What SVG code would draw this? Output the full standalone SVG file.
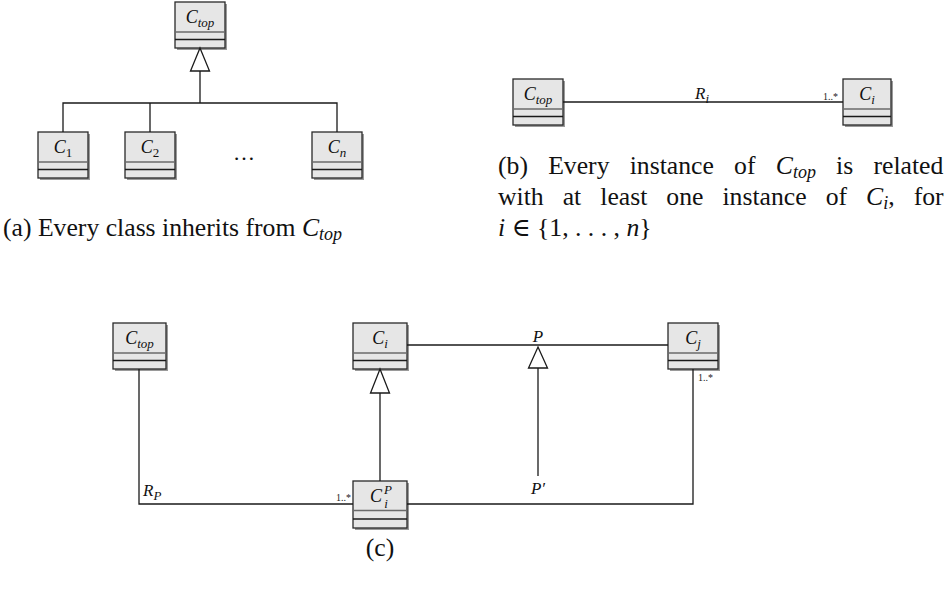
<svg xmlns="http://www.w3.org/2000/svg" width="947" height="596" viewBox="0 0 947 596">
  <style>
    .shadow { fill: #9a9a9a; stroke: none; }
    .box { fill: #e6e6e6; stroke: #2a2a2a; stroke-width: 1.3; }
    .sep1 { stroke: #6a6a6a; stroke-width: 1.3; }
    .sep2 { stroke: #1a1a1a; stroke-width: 1.3; }
    .lbl { font-family: "Liberation Serif", "DejaVu Serif", serif; font-style: italic; font-size: 18px; fill: #111; text-anchor: middle; }
    .elbl { font-family: "Liberation Serif", "DejaVu Serif", serif; font-style: italic; font-size: 17px; fill: #111; }
    .sub { font-size: 13px; }
    .small { font-size: 13px; }
    .conn { fill: none; stroke: #1a1a1a; stroke-width: 1.3; }
    .tri { fill: #ffffff; stroke: #1a1a1a; stroke-width: 1.3; stroke-linejoin: miter; }
    .mult { font-family: "Liberation Serif", "DejaVu Serif", serif; font-size: 10px; fill: #222; }
    .cap { font-family: "Liberation Serif", "DejaVu Serif", serif; font-size: 25.7px; fill: #111; }
    .it { font-style: italic; }
    .capsub { font-size: 18px; font-style: italic; }
  </style>

  <!-- (a) inheritance hierarchy -->
  <g id="a-ctop" transform="translate(175,2)">
    <rect class="shadow" x="2" y="2" width="50" height="46"/>
    <rect class="box" width="50" height="46"/>
    <line class="sep1" x1="0" y1="30" x2="50" y2="30"/>
    <line class="sep2" x1="0" y1="37.5" x2="50" y2="37.5"/>
    <text class="lbl" x="25" y="21">C<tspan class="sub" dy="4">top</tspan></text>
  </g>
  <g id="a-c1" transform="translate(38,132)">
    <rect class="shadow" x="2" y="2" width="50" height="46"/>
    <rect class="box" width="50" height="46"/>
    <line class="sep1" x1="0" y1="30" x2="50" y2="30"/>
    <line class="sep2" x1="0" y1="37.5" x2="50" y2="37.5"/>
    <text class="lbl" x="25" y="21">C<tspan class="sub" dy="4" style="font-style:normal">1</tspan></text>
  </g>
  <g id="a-c2" transform="translate(125,132)">
    <rect class="shadow" x="2" y="2" width="50" height="46"/>
    <rect class="box" width="50" height="46"/>
    <line class="sep1" x1="0" y1="30" x2="50" y2="30"/>
    <line class="sep2" x1="0" y1="37.5" x2="50" y2="37.5"/>
    <text class="lbl" x="25" y="21">C<tspan class="sub" dy="4" style="font-style:normal">2</tspan></text>
  </g>
  <g id="a-cn" transform="translate(312,132)">
    <rect class="shadow" x="2" y="2" width="50" height="46"/>
    <rect class="box" width="50" height="46"/>
    <line class="sep1" x1="0" y1="30" x2="50" y2="30"/>
    <line class="sep2" x1="0" y1="37.5" x2="50" y2="37.5"/>
    <text class="lbl" x="25" y="21">C<tspan class="sub" dy="4">n</tspan></text>
  </g>
  <text x="244" y="160" font-family="Liberation Serif, serif" font-size="22" fill="#111" text-anchor="middle">…</text>

  <!-- (b) association -->
  <g id="b-ctop" transform="translate(513,79)">
    <rect class="shadow" x="2" y="2" width="50" height="46"/>
    <rect class="box" width="50" height="46"/>
    <line class="sep1" x1="0" y1="30" x2="50" y2="30"/>
    <line class="sep2" x1="0" y1="37.5" x2="50" y2="37.5"/>
    <text class="lbl" x="25" y="21">C<tspan class="sub" dy="4">top</tspan></text>
  </g>
  <g id="b-ci" transform="translate(843,79)">
    <rect class="shadow" x="2" y="2" width="48" height="46"/>
    <rect class="box" width="48" height="46"/>
    <line class="sep1" x1="0" y1="30" x2="48" y2="30"/>
    <line class="sep2" x1="0" y1="37.5" x2="48" y2="37.5"/>
    <text class="lbl" x="24" y="21">C<tspan class="sub" dy="4">i</tspan></text>
  </g>

  <!-- (c) property specialisation -->
  <g id="c-ctop" transform="translate(113,323)">
    <rect class="shadow" x="2" y="2" width="53" height="46"/>
    <rect class="box" width="53" height="46"/>
    <line class="sep1" x1="0" y1="30" x2="53" y2="30"/>
    <line class="sep2" x1="0" y1="37.5" x2="53" y2="37.5"/>
    <text class="lbl" x="26.5" y="21">C<tspan class="sub" dy="4">top</tspan></text>
  </g>
  <g id="c-ci" transform="translate(353,323)">
    <rect class="shadow" x="2" y="2" width="54" height="46"/>
    <rect class="box" width="54" height="46"/>
    <line class="sep1" x1="0" y1="30" x2="54" y2="30"/>
    <line class="sep2" x1="0" y1="37.5" x2="54" y2="37.5"/>
    <text class="lbl" x="27" y="21">C<tspan class="sub" dy="4">i</tspan></text>
  </g>
  <g id="c-cj" transform="translate(668,323)">
    <rect class="shadow" x="2" y="2" width="50" height="46"/>
    <rect class="box" width="50" height="46"/>
    <line class="sep1" x1="0" y1="30" x2="50" y2="30"/>
    <line class="sep2" x1="0" y1="37.5" x2="50" y2="37.5"/>
    <text class="lbl" x="25" y="21">C<tspan class="sub" dy="4">j</tspan></text>
  </g>
  <g id="c-cip" transform="translate(353,481)">
    <rect class="shadow" x="2" y="2" width="54" height="47"/>
    <rect class="box" width="54" height="47"/>
    <line class="sep1" x1="0" y1="29.5" x2="54" y2="29.5"/>
    <line class="sep2" x1="0" y1="38" x2="54" y2="38"/>
    <text class="lbl" x="23" y="21">C</text>
    <text class="lbl small" x="35" y="13">P</text>
    <text class="lbl small" x="33" y="27">i</text>
  </g>

  <!-- connectors -->
  <g id="connectors">
    <!-- (a) generalisation tree -->
    <path class="conn" d="M63,132 V103 H337 V132 M150,103 V132 M200,103 V71"/>
    <polygon class="tri" points="200,48 209.5,71 190.5,71"/>
    <!-- (b) R_i -->
    <line class="conn" x1="563" y1="102" x2="843" y2="102"/>
    <text x="702" y="99" class="elbl" style="text-anchor:middle">R<tspan class="sub" dy="4">i</tspan></text>
    <text x="838" y="100" class="mult" style="text-anchor:end">1..*</text>
    <!-- (c) R_P -->
    <path class="conn" d="M139,369 V504 H353"/>
    <text x="143" y="496" class="elbl">R<tspan class="sub" dy="4">P</tspan></text>
    <text x="351" y="501" class="mult" style="text-anchor:end">1..*</text>
    <!-- (c) C_i^P generalises to C_i -->
    <line class="conn" x1="380" y1="481" x2="380" y2="393"/>
    <polygon class="tri" points="380,369 389.5,393 370.5,393"/>
    <!-- (c) P between C_i and C_j -->
    <line class="conn" x1="407" y1="345" x2="668" y2="345"/>
    <text x="538" y="342" class="elbl" style="text-anchor:middle">P</text>
    <!-- (c) P' specialises P -->
    <line class="conn" x1="538" y1="476" x2="538" y2="368"/>
    <polygon class="tri" points="538,347 547.5,368 528.5,368"/>
    <text x="538" y="494" class="elbl" style="text-anchor:middle">P′</text>
    <!-- (c) C_j to C_i^P -->
    <path class="conn" d="M693,369 V504 H407"/>
    <text x="698" y="381" class="mult">1..*</text>
  </g>

  <!-- captions -->
  <text class="cap" x="3" y="236">(a) Every class inherits from <tspan class="it">C</tspan><tspan class="capsub" dy="4">top</tspan></text>
  <text class="cap" x="498" y="174" word-spacing="13.8">(b) Every instance of <tspan class="it">C</tspan><tspan class="capsub" dy="4">top</tspan><tspan dy="-4"> is related</tspan></text>
  <text class="cap" x="498" y="205" word-spacing="12.6">with at least one instance of <tspan class="it">C</tspan><tspan class="capsub" dy="4">i</tspan><tspan dy="-4">, for</tspan></text>
  <text class="cap" x="498" y="236"><tspan class="it">i</tspan> ∈ {1, . . . , <tspan class="it">n</tspan>}</text>
  <text class="cap" x="380" y="556" style="text-anchor:middle">(c)</text>
</svg>
